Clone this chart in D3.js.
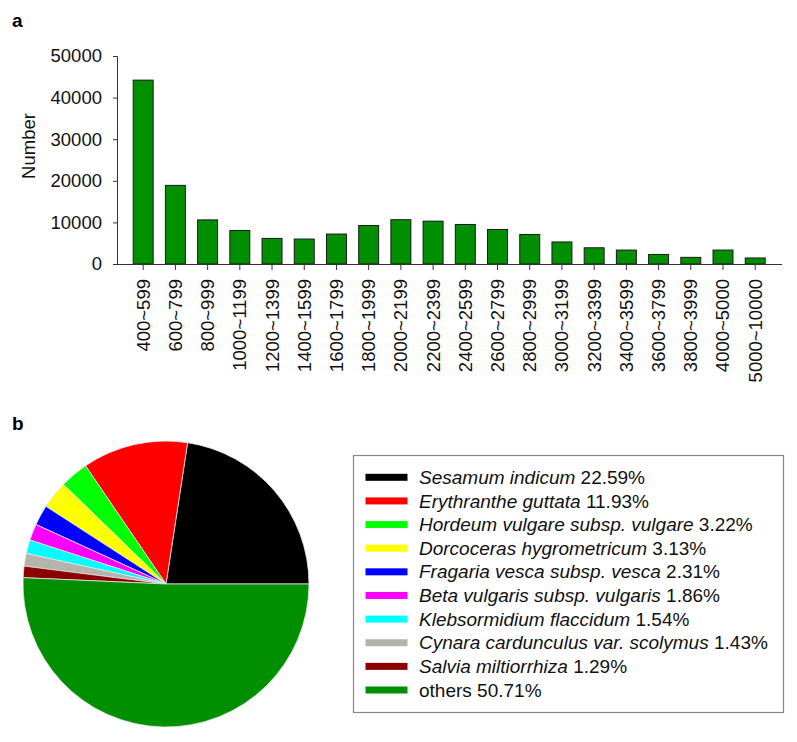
<!DOCTYPE html>
<html>
<head>
<meta charset="utf-8">
<script src="https://cdn.jsdelivr.net/npm/d3@7"></script>
<style>
  html, body { margin: 0; padding: 0; background: #fff; }
  svg { display: block; font-family: "Liberation Sans", Arial, sans-serif; }
</style>
</head>
<body>
<svg id="chart" width="797" height="742"></svg>
<script>
// --- data ---
const lengthBins = ["400~599","600~799","800~999","1000~1199","1200~1399","1400~1599","1600~1799",
  "1800~1999","2000~2199","2200~2399","2400~2599","2600~2799","2800~2999","3000~3199","3200~3399",
  "3400~3599","3600~3799","3800~3999","4000~5000","5000~10000"];
const binCounts = [44200, 18900, 10600, 8050, 6150, 6000, 7200, 9250, 10650, 10300, 9500, 8300,
  7100, 5300, 3900, 3350, 2300, 1600, 3350, 1450];
const yTicks = [0, 10000, 20000, 30000, 40000, 50000];

const species = ["Sesamum indicum", "Erythranthe guttata", "Hordeum vulgare subsp. vulgare",
  "Dorcoceras hygrometricum", "Fragaria vesca subsp. vesca", "Beta vulgaris subsp. vulgaris",
  "Klebsormidium flaccidum", "Cynara cardunculus var. scolymus", "Salvia miltiorrhiza", "others"];
const speciesPct = [22.59, 11.93, 3.22, 3.13, 2.31, 1.86, 1.54, 1.43, 1.29, 50.71];
const speciesColors = ["#000000", "#ff0000", "#00ff00", "#ffff00", "#0000ff", "#ff00ff",
  "#00ffff", "#b4b4ac", "#8b0000", "#008f00"];

const svg = d3.select("#chart");

// ---------- panel a: bar chart ----------
svg.append("text").attr("x", 12).attr("y", 27)
   .attr("font-size", 19).attr("font-weight", "bold").text("a");

const y = d3.scaleLinear().domain([0, 50000]).range([264, 56]);
const x = d3.scaleBand().domain(lengthBins).range([133.2, 765.2]).paddingInner(0.38).paddingOuter(0);

const bars = svg.append("g");
bars.selectAll("rect")
    .data(binCounts)
    .enter()
    .append("rect")
    .attr("x", (d, i) => x(lengthBins[i]))
    .attr("y", d => y(d))
    .attr("width", x.bandwidth())
    .attr("height", d => y(0) - y(d))
    .attr("fill", "#008f00")
    .attr("stroke", "#1a1a1a")
    .attr("stroke-width", 1);

const yAxis = svg.append("g").attr("transform", "translate(117,0)")
  .call(d3.axisLeft(y).tickValues(yTicks).tickFormat(d3.format("d")).tickSize(4).tickPadding(11));
yAxis.select(".domain").attr("stroke", "#333");
yAxis.selectAll(".tick line").attr("stroke", "#333");
yAxis.selectAll("text").attr("font-size", 18.5).attr("fill", "#111")
     .attr("font-family", "Liberation Sans, Arial, sans-serif");

const xAxis = svg.append("g").attr("transform", "translate(0,264)")
  .call(d3.axisBottom(x).tickSize(6).tickSizeOuter(0));
xAxis.select(".domain").attr("d", "M117,0.5H782").attr("stroke", "#333");
xAxis.selectAll(".tick line").attr("stroke", "#333");
xAxis.selectAll("text")
     .attr("font-size", 18.5).attr("fill", "#111")
     .attr("font-family", "Liberation Sans, Arial, sans-serif")
     .attr("text-anchor", "end")
     .attr("transform", "rotate(-90)")
     .attr("x", -15).attr("y", 0).attr("dy", "0.35em");

svg.append("text")
   .attr("transform", "translate(35,146) rotate(-90)")
   .attr("text-anchor", "middle")
   .attr("font-size", 18.5).attr("fill", "#111")
   .text("Number");

// ---------- panel b: pie chart ----------
svg.append("text").attr("x", 12).attr("y", 430)
   .attr("font-size", 19).attr("font-weight", "bold").text("b");

const pie = d3.pie().sort(null)
  .startAngle(Math.PI / 2).endAngle(Math.PI / 2 - 2 * Math.PI);
const arc = d3.arc().innerRadius(0).outerRadius(143);

const pieG = svg.append("g").attr("transform", "translate(166,584)");
pieG.selectAll("path")
    .data(pie(speciesPct))
    .enter()
    .append("path")
    .attr("d", arc)
    .attr("fill", (d, i) => speciesColors[i])
    .attr("stroke", "#e6e6e6")
    .attr("stroke-width", 0.8);

// legend
const legend = svg.append("g");
legend.append("rect")
      .attr("x", 353.5).attr("y", 455.5).attr("width", 430).attr("height", 257)
      .attr("fill", "#fff").attr("stroke", "#888").attr("stroke-width", 1.2);

const rowY = d3.scalePoint().domain(d3.range(species.length)).range([477.3, 690]);

const rows = legend.selectAll("g.row")
  .data(species)
  .enter()
  .append("g")
  .attr("class", "row")
  .attr("transform", (d, i) => `translate(0,${rowY(i)})`);

rows.append("rect")
    .attr("x", 365.5).attr("y", -3.5).attr("width", 42).attr("height", 7)
    .attr("fill", (d, i) => speciesColors[i]);

const labels = rows.append("text")
    .attr("x", 419).attr("dy", "0.35em")
    .attr("font-size", 19).attr("fill", "#111");
labels.append("tspan")
    .attr("font-style", (d, i) => i < species.length - 1 ? "italic" : "normal")
    .text(d => d);
labels.append("tspan")
    .text((d, i) => " " + speciesPct[i].toFixed(2) + "%");
</script>
</body>
</html>
